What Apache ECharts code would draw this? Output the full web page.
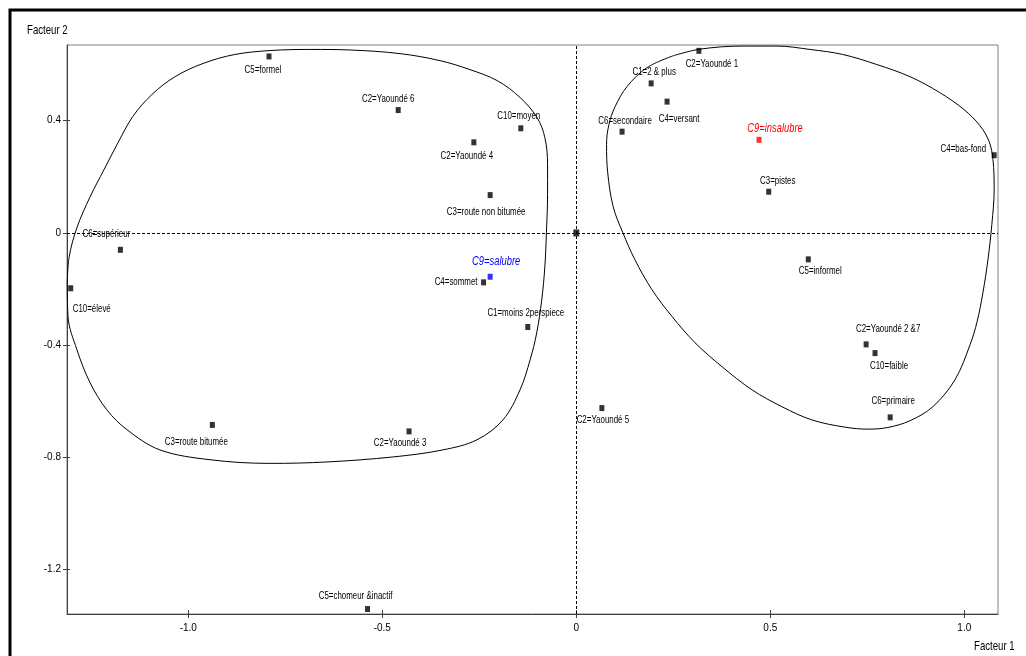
<!DOCTYPE html>
<html>
<head>
<meta charset="utf-8">
<script src="https://cdn.jsdelivr.net/npm/echarts@6/dist/echarts.min.js"></script>
<style>
html,body{margin:0;padding:0;background:#fff;}
#chart{width:1026px;height:656px;}
</style>
</head>
<body>
<div id="chart"></div>
<script>
// ---------- data ----------
const categories = ['C5=formel','C2=Yaoundé 6','C10=moyen','C2=Yaoundé 4','C3=route non bitumée','C6=supérieur','C10=élevé','C9=salubre','C4=sommet','C1=moins 2perspiece','C3=route bitumée','C2=Yaoundé 3','C5=chomeur &inactif','C2=Yaoundé 5','C2=Yaoundé 2 &7','C10=faible','C6=primaire','C2=Yaoundé 1','C1=2 & plus','C4=versant','C6=secondaire','C9=insalubre','C3=pistes','C4=bas-fond','C5=informel'];
const facteur1 = [-0.792,-0.459,-0.143,-0.264,-0.222,-1.175,-1.303,-0.222,-0.239,-0.125,-0.938,-0.431,-0.538,0.066,0.747,0.770,0.809,0.316,0.193,0.234,0.118,0.471,0.496,1.077,0.598];
const facteur2 = [0.629,0.438,0.373,0.323,0.135,-0.060,-0.197,-0.156,-0.176,-0.335,-0.684,-0.707,-1.340,-0.624,-0.397,-0.428,-0.657,0.649,0.533,0.468,0.361,0.332,0.147,0.277,-0.094];
const origin = [[0, 0]];
const xTicks = [-1.0, -0.5, 0, 0.5, 1.0];
const yTicks = [-1.2, -0.8, -0.4, 0, 0.4];
const xTitle = 'Facteur 1';
const yTitle = 'Facteur 2';
// enclosing curves (data coordinates)
const leftGroupCurve = [[-1.312,-0.177],[-1.307,-0.085],[-1.287,0.019],[-1.253,0.129],[-1.217,0.226],[-1.181,0.322],[-1.143,0.415],[-1.094,0.493],[-1.034,0.557],[-0.962,0.604],[-0.880,0.636],[-0.789,0.650],[-0.686,0.654],[-0.583,0.652],[-0.454,0.639],[-0.351,0.614],[-0.274,0.582],[-0.204,0.543],[-0.145,0.483],[-0.101,0.411],[-0.081,0.340],[-0.074,0.244],[-0.074,0.137],[-0.077,0.001],[-0.081,-0.120],[-0.089,-0.238],[-0.102,-0.356],[-0.119,-0.452],[-0.145,-0.559],[-0.189,-0.666],[-0.256,-0.737],[-0.344,-0.773],[-0.472,-0.798],[-0.643,-0.816],[-0.789,-0.821],[-0.944,-0.808],[-1.073,-0.773],[-1.158,-0.701],[-1.210,-0.630],[-1.253,-0.534],[-1.287,-0.416],[-1.310,-0.298]];
const rightGroupCurve = [[0.249,0.631],[0.319,0.655],[0.430,0.666],[0.517,0.666],[0.602,0.654],[0.687,0.636],[0.775,0.600],[0.860,0.557],[0.937,0.500],[0.999,0.440],[1.040,0.383],[1.064,0.326],[1.074,0.261],[1.077,0.154],[1.071,0.030],[1.061,-0.095],[1.048,-0.213],[1.033,-0.316],[1.015,-0.398],[0.976,-0.523],[0.919,-0.619],[0.860,-0.669],[0.803,-0.693],[0.752,-0.699],[0.693,-0.692],[0.607,-0.666],[0.530,-0.619],[0.453,-0.559],[0.376,-0.477],[0.306,-0.391],[0.247,-0.298],[0.195,-0.202],[0.151,-0.095],[0.120,0.001],[0.095,0.094],[0.081,0.215],[0.078,0.315],[0.084,0.386],[0.100,0.450],[0.131,0.522],[0.182,0.589]];

// ---------- styles / layout ----------
const FONT = "'Liberation Sans',Arial,sans-serif";
const SQUEEZE = 0.72;
// label anchor: [align, dx, dy] relative to the marker, in pixels
const labelLayout = {
  'C5=formel':['center',-6,14], 'C2=Yaoundé 6':['center',-10,-11], 'C10=moyen':['center',-2,-12],
  'C2=Yaoundé 4':['center',-7,14], 'C3=route non bitumée':['center',-4,17], 'C6=supérieur':['center',-14,-16],
  'C10=élevé':['center',21,21], 'C9=salubre':['center',6,-15], 'C4=sommet':['right',-6,0],
  'C1=moins 2perspiece':['center',-2,-14], 'C3=route bitumée':['center',-16,17], 'C2=Yaoundé 3':['center',-9,12],
  'C5=chomeur &inactif':['center',-12,-13], 'C2=Yaoundé 5':['center',1,12], 'C2=Yaoundé 2 &7':['center',22,-15],
  'C10=faible':['center',14,13], 'C6=primaire':['center',3,-16], 'C2=Yaoundé 1':['center',13,13],
  'C1=2 & plus':['center',3,-11], 'C4=versant':['center',12,17], 'C6=secondaire':['center',3,-11],
  'C9=insalubre':['center',16,-11], 'C3=pistes':['center',9,-11], 'C4=bas-fond':['right',-8,-6], 'C5=informel':['center',12,12]
};
const specialColor = {'C9=salubre':'#0000ff','C9=insalubre':'#ff0000'};

const XMIN = -1.3126, XMAX = 1.0869, YMIN = -1.3577, YMAX = 0.6698;
const fmt = v => (v === 0 ? '0' : v.toFixed(1));

const pointData = categories.map((name, i) => ({
  name: name, value: [facteur1[i], facteur2[i]],
  itemStyle: { color: specialColor[name] || '#000' }
}));

const curveSeries = (data) => ({
  type: 'line', data: data.concat([data[0]]), smooth: 0.35, showSymbol: false, silent: true,
  clip: false, lineStyle: { color: '#000', width: 1 }, z: 1
});

const chart = echarts.init(document.getElementById('chart'), null, { renderer: 'canvas' });
chart.setOption({
  animation: false,
  backgroundColor: '#fff',
  grid: { left: 67, right: 28, top: 45, bottom: 42, show: true, borderColor: '#808080', borderWidth: 1 },
  xAxis: [
    { type: 'value', min: XMIN, max: XMAX, position: 'bottom',
      axisLine: { show: true, onZero: false, lineStyle: { color: '#404040', width: 1 } },
      axisTick: { show: true, length: 4, customValues: xTicks, lineStyle: { color: '#404040' } },
      axisLabel: { customValues: xTicks, formatter: fmt, margin: 9, color: '#000', fontSize: 10, fontFamily: FONT },
      splitLine: { show: false } },
    { type: 'value', min: XMIN, max: XMAX, position: 'bottom',
      axisLine: { show: false, onZero: false },
      axisTick: { show: true, inside: true, length: 4, customValues: xTicks, lineStyle: { color: '#404040' } },
      axisLabel: { show: false }, splitLine: { show: false } }
  ],
  yAxis: [
    { type: 'value', min: YMIN, max: YMAX, position: 'left',
      axisLine: { show: true, onZero: false, lineStyle: { color: '#404040', width: 1 } },
      axisTick: { show: true, length: 4, customValues: yTicks, lineStyle: { color: '#404040' } },
      axisLabel: { customValues: yTicks, formatter: fmt, margin: 6, color: '#000', fontSize: 10, fontFamily: FONT },
      splitLine: { show: false } },
    { type: 'value', min: YMIN, max: YMAX, position: 'left',
      axisLine: { show: false, onZero: false },
      axisTick: { show: true, inside: true, length: 3, customValues: yTicks, lineStyle: { color: '#404040' } },
      axisLabel: { show: false }, splitLine: { show: false } }
  ],
  series: [
    curveSeries(leftGroupCurve),
    curveSeries(rightGroupCurve),
    { type: 'scatter', data: origin, symbol: 'rect', symbolSize: [6, 7], itemStyle: { color: '#000' }, z: 3,
      silent: true,
      markLine: { silent: true, symbol: 'none', label: { show: false },
        lineStyle: { color: '#000', width: 1, type: [3, 2] },
        data: [{ xAxis: 0 }, { yAxis: 0 }] } },
    { type: 'scatter', data: pointData, symbol: 'rect', symbolSize: [5, 6], z: 4, silent: true },
    { type: 'custom', data: pointData, z: 5, silent: true, clip: false,
      renderItem: function (params, api) {
        const name = categories[params.dataIndex];
        const lay = labelLayout[name] || ['center', 0, -12];
        const col = specialColor[name];
        const p = api.coord([api.value(0), api.value(1)]);
        return {
          type: 'text', x: p[0] + lay[1], y: p[1] + lay[2], scaleX: SQUEEZE, scaleY: 1,
          style: {
            text: name, fill: col || '#000', fontFamily: FONT,
            fontSize: col ? 13 : 11, fontStyle: col ? 'italic' : 'normal',
            align: lay[0], verticalAlign: 'middle'
          }
        };
      } }
  ],
  graphic: [
    { type: 'rect', shape: { x: 10, y: 10, width: 1100, height: 800 }, style: { fill: 'none', stroke: '#000', lineWidth: 3 }, silent: true },
    { type: 'text', x: 27, y: 30, scaleX: 0.74, style: { text: yTitle, fill: '#000', fontSize: 13, fontFamily: FONT, verticalAlign: 'middle' } },
    { type: 'text', x: 974, y: 646, scaleX: 0.74, style: { text: xTitle, fill: '#000', fontSize: 13, fontFamily: FONT, verticalAlign: 'middle' } }
  ]
});
</script>
</body>
</html>
